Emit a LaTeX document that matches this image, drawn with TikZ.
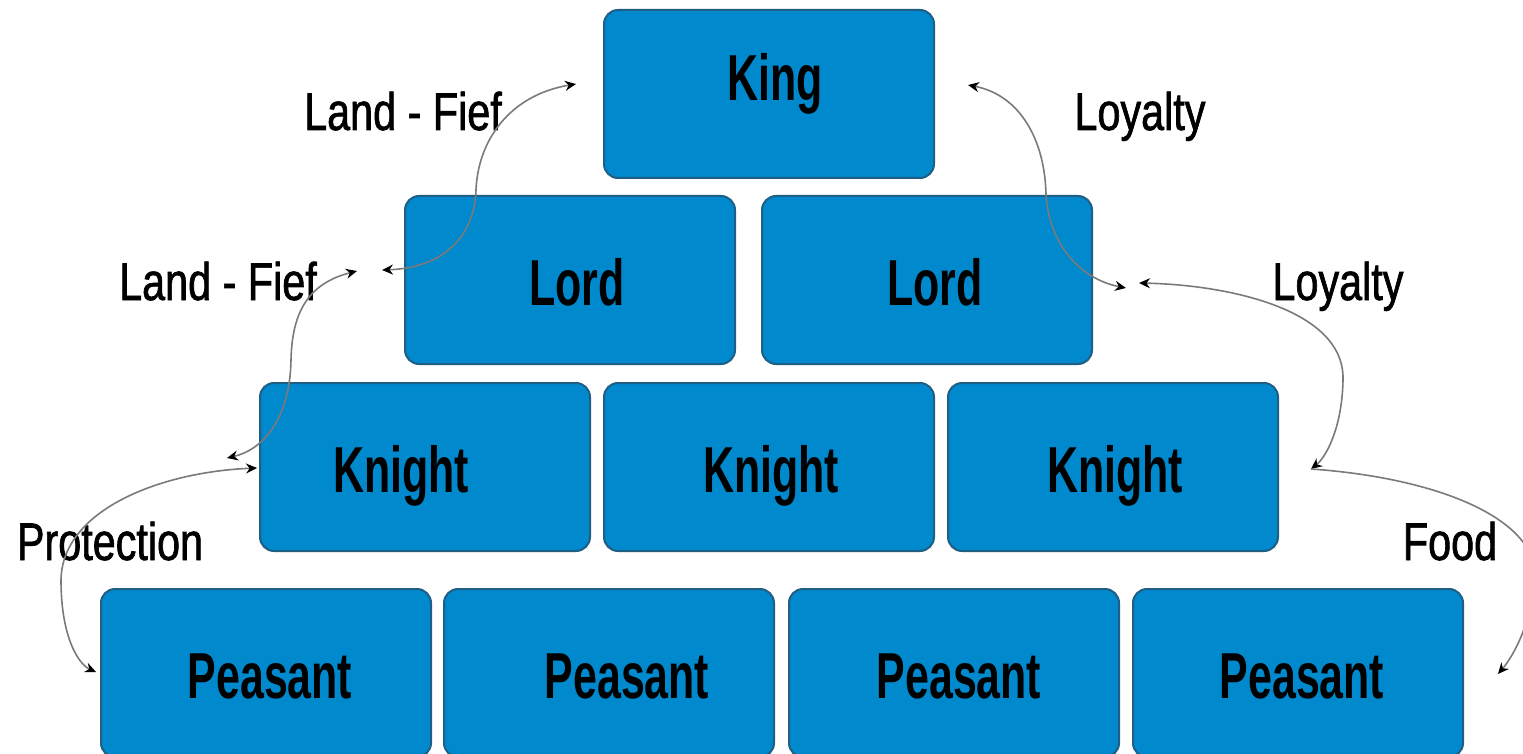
\documentclass[tikz,border=0pt]{standalone}
\usepackage{fontspec}
\newfontfamily\boxfont[FakeStretch=0.66]{Liberation Sans}
\newfontfamily\tagfont[FakeStretch=0.78,FakeBold=1.2]{Liberation Sans}
\usetikzlibrary{arrows.meta,calc}
\definecolor{boxfill}{HTML}{0089CC}
\definecolor{boxline}{HTML}{1F5F86}
\definecolor{linkgray}{HTML}{7A7A7A}
\tikzset{
  rank/.style={draw=boxline, line width=2pt, fill=boxfill, rounded corners=14pt,
    minimum width=330pt, minimum height=168pt, inner sep=0pt},
  ranktext/.style={font=\boxfont\bfseries\fontsize{65}{68}\selectfont, text=black,
    inner sep=0pt, anchor=base},
  tag/.style={font=\tagfont\fontsize{53}{56}\selectfont, text=black, inner sep=0pt, anchor=base},
  link/.style={draw=linkgray, line width=1.6pt},
  tip/.tip={Stealth[length=11pt,width=10pt,color=black]}
}
\begin{document}
\begin{tikzpicture}[x=1pt,y=-1pt]
\useasboundingbox (0,0) rectangle (1523,754);
\clip (0,0) rectangle (1523,754);
% boxes
\node[rank] (king) at (769,94) {};
\node[rank] (lord1) at (570,280) {};
\node[rank] (lord2) at (927,280) {};
\node[rank] (kn1) at (425,467) {};
\node[rank] (kn2) at (769,467) {};
\node[rank] (kn3) at (1113,467) {};
\node[rank] (pe1) at (266,673) {};
\node[rank] (pe2) at (609,673) {};
\node[rank] (pe3) at (954,673) {};
\node[rank] (pe4) at (1298,673) {};
% box texts
\node[ranktext] (kingT) at (775,101) {King};
\node[ranktext] (lord1T) at (577,305) {Lord};
\node[ranktext] (lord2T) at (935,305) {Lord};
\node[ranktext] (kn1T) at (401,492) {Knight};
\node[ranktext] (kn2T) at (771,492) {Knight};
\node[ranktext] (kn3T) at (1115,492) {Knight};
\node[ranktext] (pe1T) at (270,698) {Peasant};
\node[ranktext] (pe2T) at (627,698) {Peasant};
\node[ranktext] (pe3T) at (959,698) {Peasant};
\node[ranktext] (pe4T) at (1302,698) {Peasant};
% labels
\node[tag] (t1) at (403,130) {Land - Fief};
\node[tag] (t2) at (1140,130) {Loyalty};
\node[tag] (t3) at (218,300) {Land - Fief};
\node[tag] (t4) at (1338,300) {Loyalty};
\node[tag] (t5) at (110,560) {Protection};
\node[tag] (t6) at (1450,560) {Food};
% connector end points
\coordinate (kingL) at ($(king.west)+(-27,-10)$);
\coordinate (lordA) at ($(lord1.west)+(-22,-10)$);
\coordinate (lordB) at ($(lord1.west)+(-47,-9)$);
\coordinate (knA) at ($(kn1.west)+(-32,-9)$);
\coordinate (knB) at ($(kn1.west)+(-2,1)$);
\coordinate (peA) at ($(pe1.west)+(-4,-1)$);
\coordinate (kingR) at ($(king.east)+(33,-9)$);
\coordinate (lordC) at ($(lord2.east)+(33,8)$);
\coordinate (lordD) at ($(lord2.east)+(46,3)$);
\coordinate (knC) at ($(kn3.east)+(32,2)$);
\coordinate (peB) at ($(pe4.east)+(34,1)$);
% connectors
\draw[link,{tip}-{tip}] (kingL) .. controls (510,95) and (478,140) .. (476,190)
   .. controls (474,240) and (440,268) .. (lordA);
\draw[link,{tip}-{tip}] (lordB) .. controls (310,283) and (292,310) .. (291,360)
   .. controls (290,420) and (262,450) .. (knA);
\draw[link,{tip}-{tip}] (knB) .. controls (160,472) and (62,510) .. (61,580)
   .. controls (61,640) and (80,665) .. (peA);
\draw[link,{tip}-{tip}] (kingR) .. controls (1020,95) and (1045,140) .. (1046,195)
   .. controls (1050,250) and (1085,280) .. (lordC);
\draw[link,{tip}-{tip}] (lordD) .. controls (1230,285) and (1345,310) .. (1343,380)
   .. controls (1342,430) and (1325,458) .. (knC);
\draw[link,-{tip}] (knC) .. controls (1440,478) and (1540,520) .. (1535,580)
   .. controls (1530,630) and (1510,660) .. (peB);
\end{tikzpicture}
\end{document}
